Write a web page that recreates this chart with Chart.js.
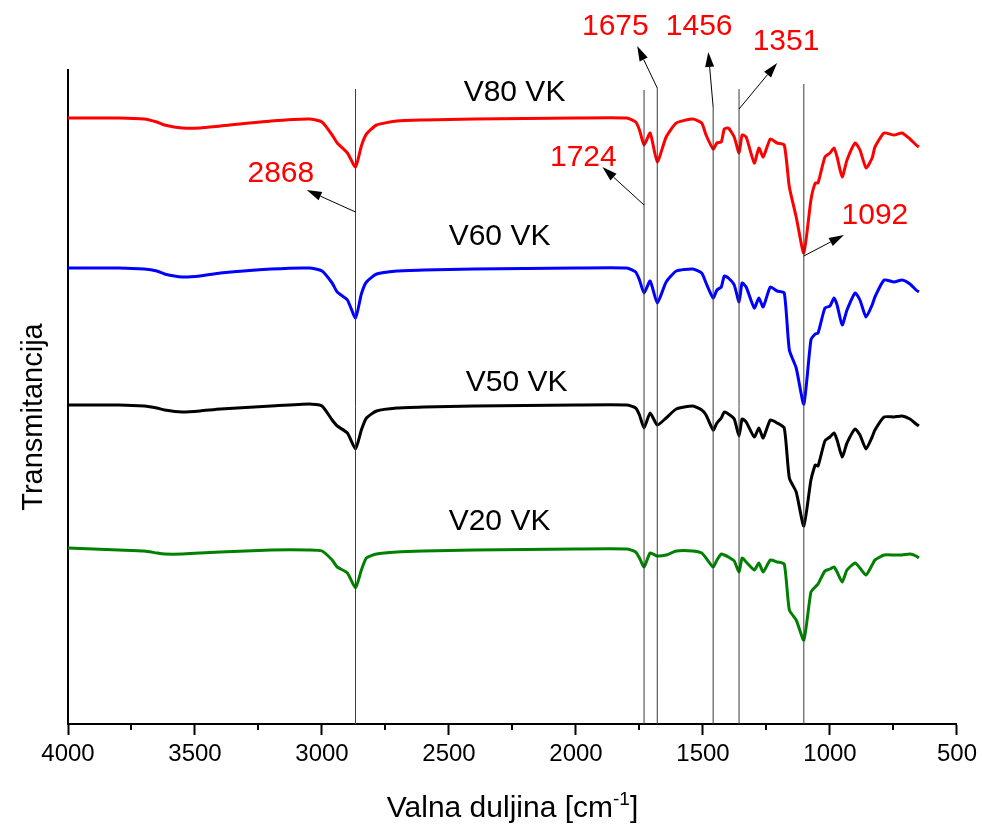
<!DOCTYPE html>
<html lang="hr">
<head>
<meta charset="UTF-8">
<title>FTIR spektri</title>
<script src="https://cdn.jsdelivr.net/npm/chart.js"></script>
<style>
  html, body { margin: 0; padding: 0; background: #fff; }
  #wrap { width: 982px; height: 828px; }
</style>
</head>
<body>
<div id="wrap"><canvas id="ftir" width="982" height="828"></canvas></div>

<script>
// wavenumbers (cm-1) shared by the four spectra
const wavenumbers = [4000, 3800, 3700, 3650, 3620, 3550, 3480, 3400, 3200, 3050,
  3000, 2960, 2940, 2900, 2868, 2845, 2825, 2785, 2705, 2600,
  2400, 2000, 1800, 1765, 1750, 1732, 1708, 1680, 1645, 1605,
  1540, 1505, 1488, 1460, 1445, 1428, 1416, 1400, 1377, 1358,
  1346, 1330, 1298, 1280, 1263, 1235, 1208, 1180, 1160, 1133,
  1103, 1075, 1058, 1047, 1020, 1000, 984, 972, 952, 933,
  901, 882, 858, 834, 823, 787, 748, 716, 685, 661,
  650];

// transmittance, arbitrary units (spectra stacked with an offset)
const v80 = [606, 606, 605, 602, 599, 596, 596, 598, 603, 605,
  602, 589, 581, 571, 557, 578, 590, 599, 603, 604,
  605, 606, 606, 602, 594, 579, 591, 562, 587, 601,
  605, 601, 589, 575, 581, 582, 595, 596, 587, 571,
  589, 587, 561, 576, 567, 585, 581, 579, 537, 507,
  471, 524, 541, 541, 567, 571, 576, 567, 547, 564,
  581, 574, 556, 566, 577, 591, 589, 591, 585, 579,
  577];
const v60 = [456, 456, 455, 453, 450, 447, 448, 451, 455, 456,
  453, 441, 432, 424, 406, 430, 442, 450, 453, 454,
  455, 456, 456, 452, 444, 431, 443, 421, 442, 453,
  455, 451, 441, 426, 434, 437, 448, 446, 439, 422,
  441, 437, 416, 426, 417, 437, 433, 431, 374, 356,
  320, 384, 390, 391, 416, 418, 426, 419, 399, 414,
  431, 424, 407, 419, 427, 444, 442, 444, 440, 434,
  432];
const v50 = [319, 319, 318, 316, 314, 312, 313, 315, 318, 320,
  318, 304, 298, 291, 275, 294, 306, 313, 316, 317,
  318, 319, 319, 316, 309, 296, 311, 299, 306, 315,
  318, 314, 309, 294, 301, 306, 312, 310, 305, 288,
  305, 302, 287, 296, 286, 304, 301, 296, 246, 232,
  198, 244, 259, 258, 283, 287, 291, 284, 267, 281,
  295, 289, 275, 287, 294, 307, 307, 308, 305, 300,
  298];
const v20 = [176, 174, 173, 171, 170, 170, 171, 172, 174, 174,
  173, 164, 157, 151, 136, 154, 166, 170, 172, 173,
  174, 175, 175, 172, 166, 157, 171, 168, 169, 173,
  173, 171, 166, 157, 164, 170, 169, 167, 163, 152,
  166, 162, 154, 161, 152, 164, 162, 160, 114, 104,
  84, 132, 137, 140, 153, 155, 157, 152, 142, 154,
  161, 156, 149, 159, 164, 169, 169, 169, 170, 168,
  166];

const seriesNames = ['V80 VK', 'V60 VK', 'V50 VK', 'V20 VK'];
const seriesColors = ['#ff0000', '#0000ff', '#000000', '#008000'];

// marked bands: where the vertical lines sit, how high they go, and their labels
const peakLines = [2868, 1732, 1680, 1460, 1358, 1103];
const peakLineTops = [635, 634, 636, 617, 635, 640];
const peakLabels = ['2868', '1724', '1675', '1456', '1351', '1092'];

const minorTicks = [3750, 3250, 2750, 2250, 1750, 1250, 750];

// annotation placement, in data units (wavenumber, transmittance)
const labelSpots = [[3162, 550], [1971, 566], [1845, 697], [1515, 697], [1173, 682], [823, 508]];
const arrowTails = [[2868, 512], [1732, 519], [1680, 636], [1460, 617], [1358, 615], [1103, 468]];
const arrowHeads = [[3060, 534], [1896, 557], [1759, 678], [1479, 672], [1208, 661], [945, 489]];
const nameSpots = [[2242, 631], [2301, 487], [2234, 341], [2301, 202]];

const FONT = 'Arial, "Liberation Sans", Helvetica, sans-serif';

const spectra = [v80, v60, v50, v20].map((vals, i) => ({
  label: seriesNames[i],
  data: wavenumbers.map((w, j) => ({ x: w, y: vals[j] })),
  borderColor: seriesColors[i],
  borderWidth: 3,
  pointRadius: 0,
  tension: 0.18,
  borderJoinStyle: 'round',
  order: 2
}));

const markers = peakLines.map((w, i) => ({
  label: 'line ' + peakLabels[i],
  data: [{ x: w, y: 0 }, { x: w, y: peakLineTops[i] }],
  borderColor: '#3a3a3a',
  borderWidth: 1,
  pointRadius: 0,
  order: 1
}));

function drawArrow(ctx, x1, y1, x2, y2) {
  const ang = Math.atan2(y2 - y1, x2 - x1);
  const len = 15, half = 4.5;
  const bx = x2 - len * Math.cos(ang), by = y2 - len * Math.sin(ang);
  ctx.beginPath();
  ctx.moveTo(x1, y1);
  ctx.lineTo(bx, by);
  ctx.stroke();
  ctx.beginPath();
  ctx.moveTo(x2, y2);
  ctx.lineTo(bx - half * Math.sin(ang), by + half * Math.cos(ang));
  ctx.lineTo(bx + half * Math.sin(ang), by - half * Math.cos(ang));
  ctx.closePath();
  ctx.fill();
}

const overlay = {
  id: 'overlay',
  afterDraw(chart) {
    const { ctx, scales: { x, y } } = chart;
    ctx.save();

    // minor ticks
    ctx.strokeStyle = '#000';
    ctx.lineWidth = 2;
    minorTicks.forEach(v => {
      const px = Math.round(x.getPixelForValue(v));
      ctx.beginPath();
      ctx.moveTo(px, y.bottom);
      ctx.lineTo(px, y.bottom + 6);
      ctx.stroke();
    });

    // arrows
    ctx.lineWidth = 1;
    ctx.fillStyle = '#000';
    arrowTails.forEach((t, i) => {
      const h = arrowHeads[i];
      drawArrow(ctx, x.getPixelForValue(t[0]), y.getPixelForValue(t[1]),
        x.getPixelForValue(h[0]), y.getPixelForValue(h[1]));
    });

    // band labels
    ctx.textAlign = 'center';
    ctx.textBaseline = 'middle';
    ctx.font = '30px ' + FONT;
    ctx.fillStyle = '#ff0000';
    peakLabels.forEach((t, i) => {
      ctx.fillText(t, x.getPixelForValue(labelSpots[i][0]), y.getPixelForValue(labelSpots[i][1]));
    });

    // sample names
    ctx.fillStyle = '#000';
    seriesNames.forEach((t, i) => {
      ctx.fillText(t, x.getPixelForValue(nameSpots[i][0]), y.getPixelForValue(nameSpots[i][1]));
    });

    // y title
    ctx.save();
    ctx.translate(34, 417);
    ctx.rotate(-Math.PI / 2);
    ctx.font = '29px ' + FONT;
    ctx.fillText('Transmitancija', 0, 0);
    ctx.restore();

    // x title with superscript
    const base = 'Valna duljina [cm', sup = '-1', end = ']';
    ctx.textAlign = 'left';
    ctx.textBaseline = 'alphabetic';
    ctx.font = '30px ' + FONT;
    const wBase = ctx.measureText(base).width, wEnd = ctx.measureText(end).width;
    ctx.font = '19px ' + FONT;
    const wSup = ctx.measureText(sup).width;
    let tx = (x.left + x.right) / 2 - (wBase + wSup + wEnd) / 2;
    const ty = 817;
    ctx.font = '30px ' + FONT;
    ctx.fillText(base, tx, ty);
    tx += wBase;
    ctx.font = '19px ' + FONT;
    ctx.fillText(sup, tx, ty - 12);
    tx += wSup;
    ctx.font = '30px ' + FONT;
    ctx.fillText(end, tx, ty);

    ctx.restore();
  }
};

new Chart(document.getElementById('ftir'), {
  type: 'line',
  data: { datasets: spectra.concat(markers) },
  options: {
    responsive: false,
    animation: false,
    layout: { padding: { top: 70, right: 24, bottom: 0, left: 0 } },
    plugins: { legend: { display: false }, tooltip: { enabled: false } },
    scales: {
      x: {
        type: 'linear',
        min: 500,
        max: 4000,
        reverse: true,
        afterFit: s => { s.height = 104; },
        border: { display: true, color: '#000', width: 2 },
        grid: { display: true, drawOnChartArea: false, drawTicks: true, tickLength: 11, tickWidth: 2, tickColor: '#000' },
        ticks: {
          stepSize: 500,
          autoSkip: false,
          maxRotation: 0,
          padding: 5,
          color: '#000',
          font: { family: FONT, size: 24 },
          callback: v => String(v)
        }
      },
      y: {
        type: 'linear',
        min: 0,
        max: 654,
        afterFit: s => { s.width = 68; },
        border: { display: true, color: '#000', width: 2 },
        grid: { display: false },
        ticks: { display: false }
      }
    }
  },
  plugins: [overlay]
});
</script>
</body>
</html>
